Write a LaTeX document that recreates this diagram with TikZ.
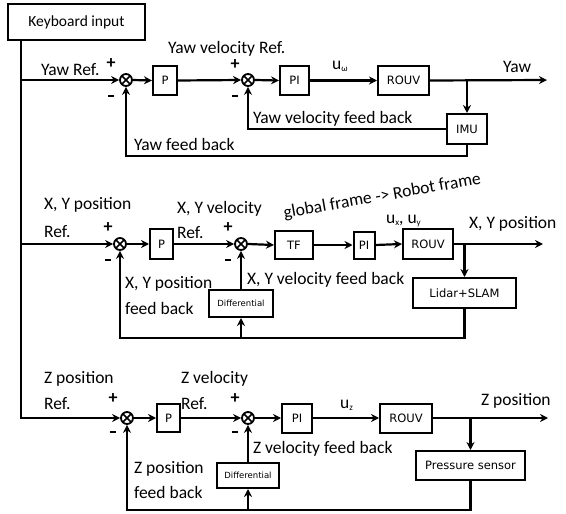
\documentclass[tikz,border=0pt]{standalone}
\usepackage{fontspec}
\setmainfont{Carlito}
\newfontfamily\boxfont{DejaVu Sans}
\usetikzlibrary{arrows.meta}
\begin{document}
\begin{tikzpicture}[x=1pt,y=-1pt,line width=2.2pt,
  blk/.style={draw,line width=2pt,inner sep=0pt,font=\boxfont\fontsize{11.5}{13}\selectfont},
  lbl/.style={anchor=base west,inner sep=0pt,font=\fontsize{17.5}{20}\selectfont},
  sgn/.style={inner sep=0pt,font=\bfseries\fontsize{18}{18}\selectfont},
  arr/.style={-{Stealth[length=8pt,width=8pt]}},
  sumn/.style={circle,draw,line width=1.8pt,minimum size=12pt,inner sep=0pt,
    path picture={\draw[line width=1.6pt] (path picture bounding box.north west) -- (path picture bounding box.south east)
      (path picture bounding box.north east) -- (path picture bounding box.south west);}}]
\useasboundingbox (0,0) rectangle (566,514);
\newcommand{\mns}{\rule{6pt}{2.6pt}}
\newcommand{\pls}{\smash{+}}

% keyboard
\node[draw,line width=2pt,minimum width=137pt,minimum height=36pt,inner sep=0pt,font=\fontsize{15.5}{17}\selectfont] (kb) at (76.5,22) {Keyboard input};
\coordinate (k0) at (21,40);

% ---------- Yaw row ----------
\node[sumn] (ys1) at (126,80) {};
\node[blk,minimum width=24pt,minimum height=29pt] (yp) at (165,80.5) {P};
\node[sumn] (ys2) at (248,80) {};
\node[blk,minimum width=29pt,minimum height=29pt] (ypi) at (294.5,80.5) {PI};
\node[blk,minimum width=51pt,minimum height=29pt] (yr) at (403.5,80.5) {ROUV};
\node[blk,minimum width=40pt,minimum height=30pt] (imu) at (467,129) {IMU};
\coordinate (yout) at (547,80);
\coordinate (ybr) at (467,80);

\draw[arr] (k0 |- ys1) -- (ys1.west);
\draw[arr] (ys1.east) -- (yp.west);
\draw[arr] (yp.east) -- (ys2.west);
\draw[arr] (ys2.east) -- (ypi.west);
\draw[arr] (ypi.east) -- (yr.west);
\draw[arr] (yr.east) -- (yout);
\draw[arr] (ybr) -- (imu.north);
\draw[arr] (imu.west) -| (ys2.south);
\draw[arr] (imu.south) -- ++(0,11) -| (ys1.south);

\node[sgn] at (111,68) {\pls};
\node[sgn] at (111,96) {\mns};
\node[sgn] at (235,70) {\pls};
\node[sgn] at (235,96) {\mns};

\node[lbl] at (40,75) {Yaw Ref.};
\node[lbl] at (167,53) {Yaw velocity Ref.};
\node[lbl] at (331,69) {u\raisebox{-0.35ex}{\fontsize{9}{10}\selectfont ω}};
\node[lbl] at (502,72) {Yaw};
\node[lbl] at (252,123) {Yaw velocity feed back};
\node[lbl] at (133,150) {Yaw feed back};

% ---------- X,Y row ----------
\node[sumn] (xs1) at (120,244) {};
\node[blk,minimum width=23pt,minimum height=30pt] (xp) at (161.5,244) {P};
\node[sumn] (xs2) at (241,244) {};
\node[blk,minimum width=38pt,minimum height=28pt] (tf) at (294,245) {TF};
\node[blk,minimum width=21pt,minimum height=27pt] (xpi) at (364,245) {PI};
\node[blk,minimum width=50pt,minimum height=30pt] (xr) at (428,244) {ROUV};
\node[blk,minimum width=103pt,minimum height=30pt] (lidar) at (464.5,293) {Lidar+SLAM};
\node[blk,minimum width=64pt,minimum height=27pt,font=\boxfont\fontsize{8.5}{9}\selectfont] (xd) at (241,303.5) {Differential};
\coordinate (xout) at (543,244);
\coordinate (xbr) at (464.5,244);
\coordinate (xdb) at (241,338);

\draw[arr] (k0 |- xs1) -- (xs1.west);
\draw[arr] (xs1.east) -- (xp.west);
\draw[arr] (xp.east) -- (xs2.west);
\draw[arr] (xs2.east) -- (tf.west);
\draw[arr] (tf.east) -- (xpi.west);
\draw[arr] (xpi.east) -- (xr.west);
\draw[arr] (xr.east) -- (xout);
\draw[arr] (xbr) -- (lidar.north);
\draw[arr] (lidar.south) |- (xdb) -| (xs1.south);
\draw[arr] (xdb) -- (xd.south);
\draw[arr] (xd.north) -- (xs2.south);

\node[sgn] at (108,232) {\pls};
\node[sgn] at (108,260) {\mns};
\node[sgn] at (228,232) {\pls};
\node[sgn] at (228,260) {\mns};

\node[lbl] at (43,209) {X, Y position};
\node[lbl] at (43,237) {Ref.};
\node[lbl] at (176,213) {X, Y velocity};
\node[lbl] at (176,238) {Ref.};
\node[lbl] at (124,288) {X, Y position};
\node[lbl] at (124,314) {feed back};
\node[lbl] at (246,284) {X, Y velocity feed back};
\node[lbl] at (385,223) {u\raisebox{-0.35ex}{\fontsize{9}{10}\selectfont x}, u\raisebox{-0.35ex}{\fontsize{9}{10}\selectfont y}};
\node[lbl] at (468,228) {X, Y position};
\node[inner sep=0pt,anchor=base,rotate=10,font=\fontsize{17.5}{20}\selectfont] at (383,201) {global frame -> Robot frame};

% ---------- Z row ----------
\node[sumn] (zs1) at (127,418) {};
\node[blk,minimum width=23pt,minimum height=28pt] (zp) at (168.5,418) {P};
\node[sumn] (zs2) at (248,418) {};
\node[blk,minimum width=30pt,minimum height=29pt] (zpi) at (297,418) {PI};
\node[blk,minimum width=52pt,minimum height=29pt] (zr) at (406,418) {ROUV};
\node[blk,minimum width=109pt,minimum height=29pt] (ps) at (470.5,465.5) {Pressure sensor};
\node[blk,minimum width=62pt,minimum height=25pt,font=\boxfont\fontsize{8.5}{9}\selectfont] (zd) at (248,475.5) {Differential};
\coordinate (zout) at (548,418);
\coordinate (zbr) at (470.5,418);
\coordinate (zdb) at (248,510);

\draw[arr] (k0) |- (zs1.west);
\draw[arr] (zs1.east) -- (zp.west);
\draw[arr] (zp.east) -- (zs2.west);
\draw[arr] (zs2.east) -- (zpi.west);
\draw[arr] (zpi.east) -- (zr.west);
\draw[arr] (zr.east) -- (zout);
\draw[arr] (zbr) -- (ps.north);
\draw[arr] (ps.south) |- (zdb) -| (zs1.south);
\draw[arr] (zdb) -- (zd.south);
\draw[arr] (zd.north) -- (zs2.south);

\node[sgn] at (113,403) {\pls};
\node[sgn] at (113,432) {\mns};
\node[sgn] at (235,403) {\pls};
\node[sgn] at (235,432) {\mns};

\node[lbl] at (43,383) {Z position};
\node[lbl] at (43,409) {Ref.};
\node[lbl] at (180,383) {Z velocity};
\node[lbl] at (180,409) {Ref.};
\node[lbl] at (133,473) {Z position};
\node[lbl] at (133,498) {feed back};
\node[lbl] at (252,453) {Z velocity feed back};
\node[lbl] at (339,408) {u\raisebox{-0.35ex}{\fontsize{9}{10}\selectfont z}};
\node[lbl] at (480,405) {Z position};
\end{tikzpicture}
\end{document}
